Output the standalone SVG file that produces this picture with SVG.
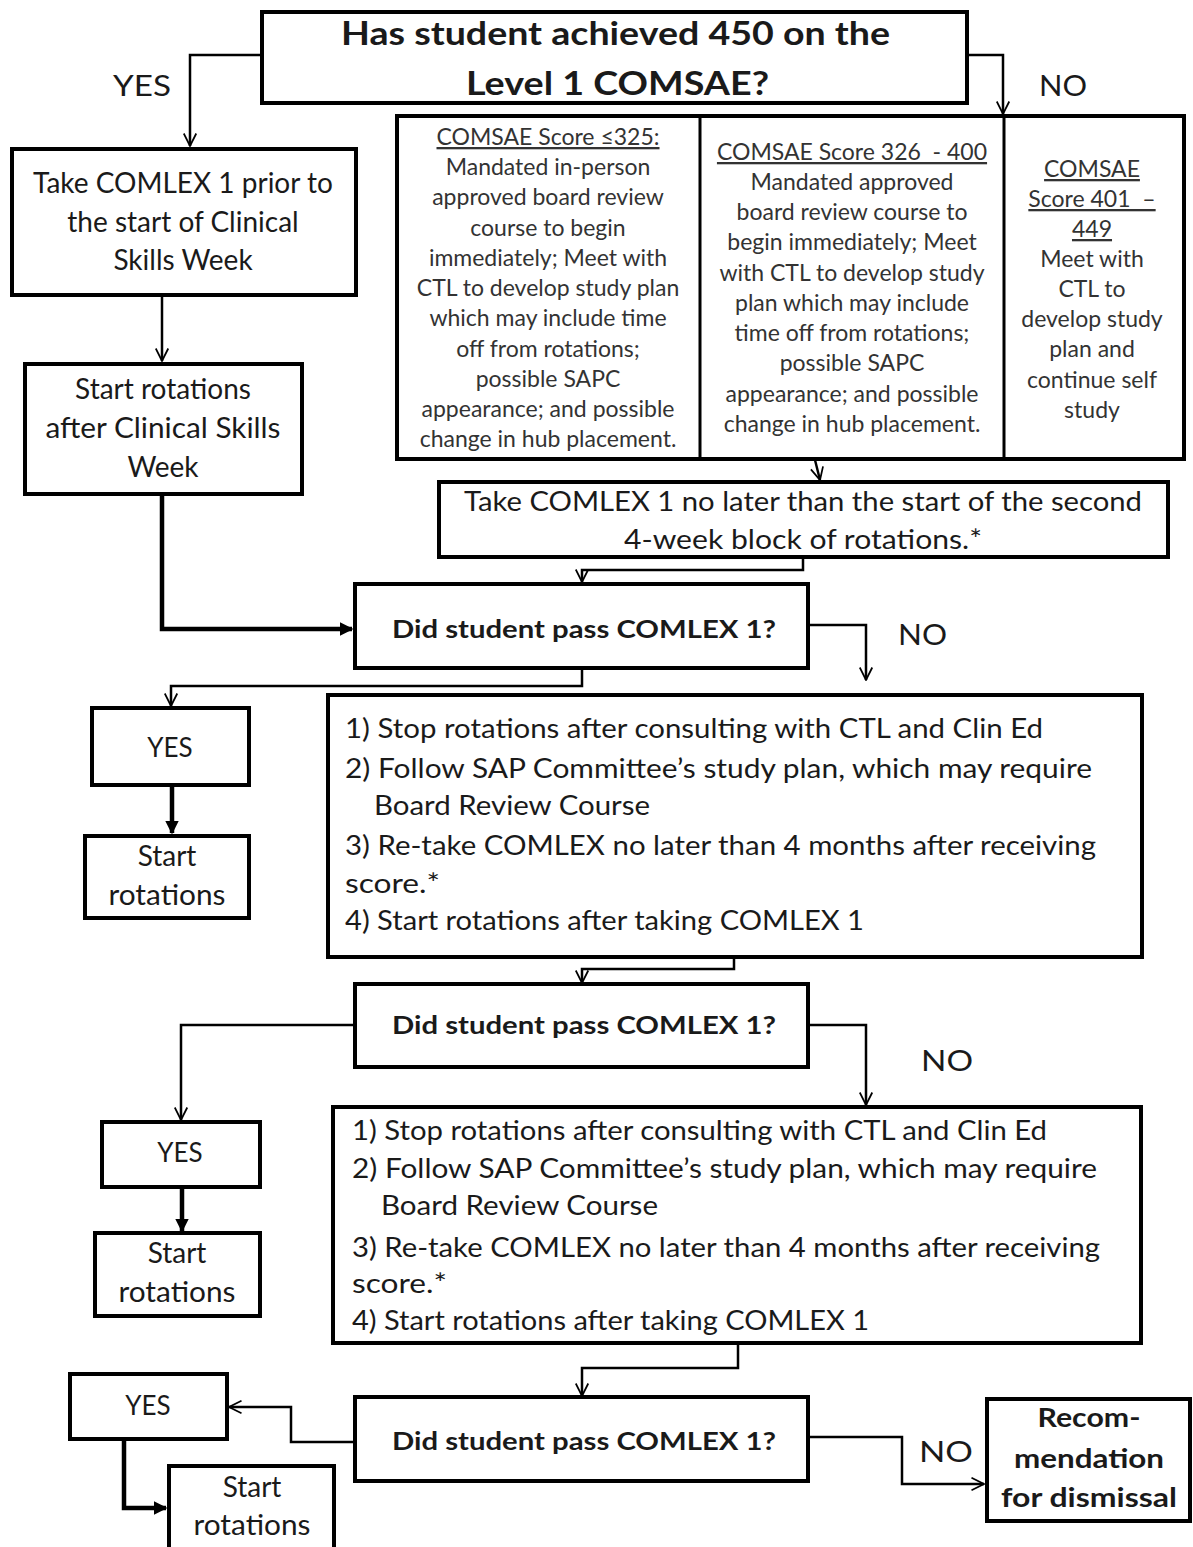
<svg xmlns="http://www.w3.org/2000/svg" width="1193" height="1547" viewBox="0 0 1193 1547">
<style>
.box{fill:#fff;stroke:#000;stroke-width:4}
.t{font-family:Lato,"Open Sans","Liberation Sans",sans-serif;fill:#1a1a1a}
.c{text-anchor:middle}
.b{font-weight:bold}
.col{font-family:Lato,"Open Sans","Liberation Sans",sans-serif;fill:#333;font-size:23px;text-anchor:middle}
.u{text-decoration:underline}
.ln{fill:none;stroke:#000;stroke-width:2.5}
.th{fill:none;stroke:#000;stroke-width:4.5}
</style>
<defs>
<marker id="a" viewBox="0 0 12 12" refX="11" refY="6" markerWidth="6" markerHeight="6" markerUnits="strokeWidth" orient="auto">
<path d="M1,1 L11,6 L1,11" fill="none" stroke="#000" stroke-width="1.4"/>
</marker>
<marker id="f" viewBox="0 0 10 10" refX="9" refY="5" markerWidth="3" markerHeight="3" markerUnits="strokeWidth" orient="auto">
<path d="M0,0 L10,5 L0,10 Z" fill="#000"/>
</marker>
</defs>
<rect width="1193" height="1547" fill="#fff"/>

<g id="connectors">
<polyline class="ln" points="262,55 190,55 190,146" marker-end="url(#a)"/>
<polyline class="ln" points="967,55 1003,55 1003,114" marker-end="url(#a)"/>
<line class="ln" x1="162" y1="295" x2="162" y2="361" marker-end="url(#a)"/>
<polyline class="th" points="162,494 162,629 352,629" marker-end="url(#f)"/>
<line class="ln" x1="815" y1="460" x2="820" y2="480" marker-end="url(#a)"/>
<polyline class="ln" points="803,557 803,570 582,570 582,582" marker-end="url(#a)"/>
<polyline class="ln" points="810,625 866,625 866,680" marker-end="url(#a)"/>
<polyline class="ln" points="582,668 582,686 171,686 171,706" marker-end="url(#a)"/>
<line class="th" x1="172" y1="786" x2="172" y2="833" marker-end="url(#f)"/>
<polyline class="ln" points="734,957 734,969 582,969 582,983" marker-end="url(#a)"/>
<polyline class="ln" points="355,1025 181,1025 181,1120" marker-end="url(#a)"/>
<polyline class="ln" points="810,1025 866,1025 866,1105" marker-end="url(#a)"/>
<line class="th" x1="182" y1="1188" x2="182" y2="1231" marker-end="url(#f)"/>
<polyline class="ln" points="738,1343 738,1368 582,1368 582,1396" marker-end="url(#a)"/>
<polyline class="ln" points="355,1442 291,1442 291,1407 229,1407" marker-end="url(#a)"/>
<polyline class="th" points="124,1440 124,1508 166,1508" marker-end="url(#f)"/>
<polyline class="ln" points="810,1437 902,1437 902,1484 984,1484" marker-end="url(#a)"/>
</g>

<g id="labels">
<text class="t" x="113" y="96" font-size="29" textLength="58" lengthAdjust="spacingAndGlyphs">YES</text>
<text class="t" x="1039" y="96" font-size="29" textLength="48" lengthAdjust="spacingAndGlyphs">NO</text>
<text class="t" x="898" y="645" font-size="29" textLength="49" lengthAdjust="spacingAndGlyphs">NO</text>
<text class="t" x="921" y="1071" font-size="29" textLength="52" lengthAdjust="spacingAndGlyphs">NO</text>
<text class="t" x="919" y="1462" font-size="29" textLength="54" lengthAdjust="spacingAndGlyphs">NO</text>
</g>

<g id="n-top">
<rect class="box" x="262" y="12" width="705" height="91"/>
<text class="t b" x="341" y="45" font-size="32" textLength="549" lengthAdjust="spacingAndGlyphs">Has student achieved 450 on the</text>
<text class="t b" x="466" y="95" font-size="32" textLength="303" lengthAdjust="spacingAndGlyphs">Level 1 COMSAE?</text>
</g>

<g id="n-take1">
<rect class="box" x="12" y="149" width="344" height="146"/>
<text class="t c" x="183" y="193" font-size="28">Take COMLEX 1 prior to</text>
<text class="t c" x="183" y="232" font-size="28">the start of Clinical</text>
<text class="t c" x="183" y="270" font-size="28">Skills Week</text>
</g>

<g id="n-start-after">
<rect class="box" x="25" y="364" width="277" height="130"/>
<text class="t c" x="163" y="399" font-size="28">Start rotations</text>
<text class="t c" x="163" y="438" font-size="28" textLength="235" lengthAdjust="spacingAndGlyphs">after Clinical Skills</text>
<text class="t c" x="163" y="477" font-size="28">Week</text>
</g>

<g id="n-scores">
<rect class="box" x="397" y="116" width="787" height="343"/>
<line x1="700" y1="116" x2="700" y2="459" stroke="#000" stroke-width="3"/>
<line x1="1004" y1="116" x2="1004" y2="459" stroke="#000" stroke-width="3"/>
<text class="col u" x="548" y="145">COMSAE Score ≤325:</text>
<text class="col" x="548" y="175">Mandated in-person</text>
<text class="col" x="548" y="205">approved board review</text>
<text class="col" x="548" y="236">course to begin</text>
<text class="col" x="548" y="266">immediately; Meet with</text>
<text class="col" x="548" y="296">CTL to develop study plan</text>
<text class="col" x="548" y="326">which may include time</text>
<text class="col" x="548" y="357">off from rotations;</text>
<text class="col" x="548" y="387">possible SAPC</text>
<text class="col" x="548" y="417">appearance; and possible</text>
<text class="col" x="548" y="447">change in hub placement.</text>
<text class="col u" x="852" y="160" xml:space="preserve">COMSAE Score 326  - 400</text>
<text class="col" x="852" y="190">Mandated approved</text>
<text class="col" x="852" y="220">board review course to</text>
<text class="col" x="852" y="250">begin immediately; Meet</text>
<text class="col" x="852" y="281">with CTL to develop study</text>
<text class="col" x="852" y="311">plan which may include</text>
<text class="col" x="852" y="341">time off from rotations;</text>
<text class="col" x="852" y="371">possible SAPC</text>
<text class="col" x="852" y="402">appearance; and possible</text>
<text class="col" x="852" y="432">change in hub placement.</text>
<text class="col u" x="1092" y="177">COMSAE</text>
<text class="col u" x="1092" y="207" xml:space="preserve">Score 401  –</text>
<text class="col u" x="1092" y="237">449</text>
<text class="col" x="1092" y="267">Meet with</text>
<text class="col" x="1092" y="297">CTL to</text>
<text class="col" x="1092" y="327">develop study</text>
<text class="col" x="1092" y="357">plan and</text>
<text class="col" x="1092" y="388">continue self</text>
<text class="col" x="1092" y="418">study</text>
</g>

<g id="n-take2">
<rect class="box" x="439" y="482" width="729" height="75"/>
<text class="t" x="464" y="511" font-size="27" textLength="678" lengthAdjust="spacingAndGlyphs">Take COMLEX 1 no later than the start of the second</text>
<text class="t" x="624" y="549" font-size="27" textLength="358" lengthAdjust="spacingAndGlyphs">4-week block of rotations.*</text>
</g>

<g id="n-did1">
<rect class="box" x="355" y="584" width="453" height="84"/>
<text class="t b" x="392" y="638" font-size="25" textLength="384" lengthAdjust="spacingAndGlyphs">Did student pass COMLEX 1?</text>
</g>

<g id="n-yes1">
<rect class="box" x="92" y="708" width="157" height="77"/>
<text class="t c" x="170" y="757" font-size="26">YES</text>
</g>
<g id="n-start1">
<rect class="box" x="85" y="836" width="164" height="82"/>
<text class="t c" x="167" y="866" font-size="28">Start</text>
<text class="t c" x="167" y="905" font-size="28" textLength="117" lengthAdjust="spacingAndGlyphs">rotations</text>
</g>

<g id="n-steps1">
<rect class="box" x="328" y="695" width="814" height="262"/>
<text class="t" x="345" y="738" font-size="27" textLength="698" lengthAdjust="spacingAndGlyphs">1) Stop rotations after consulting with CTL and Clin Ed</text>
<text class="t" x="345" y="778" font-size="27" textLength="747" lengthAdjust="spacingAndGlyphs">2) Follow SAP Committee’s study plan, which may require</text>
<text class="t" x="374" y="815" font-size="27" textLength="276" lengthAdjust="spacingAndGlyphs">Board Review Course</text>
<text class="t" x="345" y="855" font-size="27" textLength="751" lengthAdjust="spacingAndGlyphs">3) Re-take COMLEX no later than 4 months after receiving</text>
<text class="t" x="345" y="893" font-size="27" textLength="95" lengthAdjust="spacingAndGlyphs">score.*</text>
<text class="t" x="345" y="930" font-size="27" textLength="519" lengthAdjust="spacingAndGlyphs">4) Start rotations after taking COMLEX 1</text>
</g>

<g id="n-did2">
<rect class="box" x="355" y="984" width="453" height="83"/>
<text class="t b" x="392" y="1034" font-size="25" textLength="384" lengthAdjust="spacingAndGlyphs">Did student pass COMLEX 1?</text>
</g>

<g id="n-yes2">
<rect class="box" x="102" y="1122" width="158" height="65"/>
<text class="t c" x="180" y="1162" font-size="26">YES</text>
</g>
<g id="n-start2">
<rect class="box" x="95" y="1233" width="165" height="83"/>
<text class="t c" x="177" y="1263" font-size="28">Start</text>
<text class="t c" x="177" y="1302" font-size="28" textLength="117" lengthAdjust="spacingAndGlyphs">rotations</text>
</g>

<g id="n-steps2">
<rect class="box" x="333" y="1107" width="808" height="236"/>
<text class="t" x="352" y="1140" font-size="27" textLength="695" lengthAdjust="spacingAndGlyphs">1) Stop rotations after consulting with CTL and Clin Ed</text>
<text class="t" x="352" y="1178" font-size="27" textLength="745" lengthAdjust="spacingAndGlyphs">2) Follow SAP Committee’s study plan, which may require</text>
<text class="t" x="381" y="1215" font-size="27" textLength="277" lengthAdjust="spacingAndGlyphs">Board Review Course</text>
<text class="t" x="352" y="1257" font-size="27" textLength="748" lengthAdjust="spacingAndGlyphs">3) Re-take COMLEX no later than 4 months after receiving</text>
<text class="t" x="352" y="1293" font-size="27" textLength="95" lengthAdjust="spacingAndGlyphs">score.*</text>
<text class="t" x="352" y="1330" font-size="27" textLength="517" lengthAdjust="spacingAndGlyphs">4) Start rotations after taking COMLEX 1</text>
</g>

<g id="n-did3">
<rect class="box" x="355" y="1397" width="453" height="84"/>
<text class="t b" x="392" y="1450" font-size="25" textLength="384" lengthAdjust="spacingAndGlyphs">Did student pass COMLEX 1?</text>
</g>

<g id="n-yes3">
<rect class="box" x="70" y="1374" width="157" height="65"/>
<text class="t c" x="148" y="1415" font-size="26">YES</text>
</g>
<g id="n-start3">
<rect class="box" x="169" y="1466" width="165" height="90"/>
<text class="t c" x="252" y="1497" font-size="28">Start</text>
<text class="t c" x="252" y="1535" font-size="28" textLength="117" lengthAdjust="spacingAndGlyphs">rotations</text>
</g>

<g id="n-dismiss">
<rect class="box" x="987" y="1399" width="203" height="122"/>
<text class="t b c" x="1089" y="1427" font-size="27" textLength="103" lengthAdjust="spacingAndGlyphs">Recom-</text>
<text class="t b c" x="1089" y="1468" font-size="27" textLength="150" lengthAdjust="spacingAndGlyphs">mendation</text>
<text class="t b c" x="1089" y="1507" font-size="27" textLength="176" lengthAdjust="spacingAndGlyphs">for dismissal</text>
</g>
</svg>
